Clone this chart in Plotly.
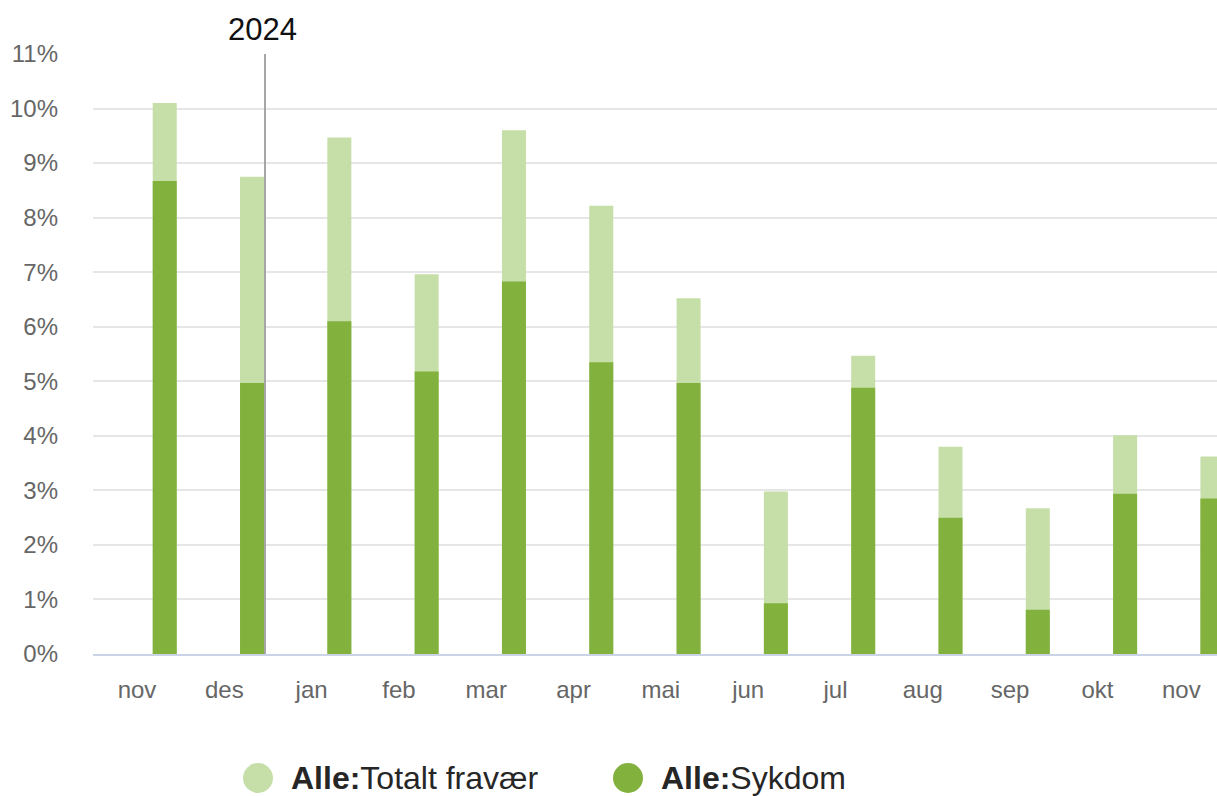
import plotly.graph_objects as go

months = ["nov", "des", "jan", "feb", "mar", "apr", "mai", "jun", "jul", "aug", "sep", "okt", "nov "]
totalt_fravaer = [10.1, 8.75, 9.47, 6.96, 9.6, 8.22, 6.52, 2.98, 5.47, 3.8, 2.67, 4.01, 3.62]
sykdom = [8.67, 4.97, 6.1, 5.18, 6.83, 5.35, 4.97, 0.93, 4.88, 2.5, 0.81, 2.94, 2.85]
y_ticks = list(range(0, 12))
y_tick_labels = [f"{v}%" for v in y_ticks]

LIGHT = "#c6dfa9"
DARK = "#82b23d"
FONT = "Liberation Sans, Arial, sans-serif"

fig = go.Figure()
fig.add_trace(go.Bar(x=months, y=totalt_fravaer, name="Alle:Totalt fravær",
                     marker=dict(color=LIGHT, line=dict(width=0)),
                     width=0.275, offset=0.18, showlegend=False))
fig.add_trace(go.Bar(x=months, y=sykdom, name="Alle:Sykdom",
                     marker=dict(color=DARK, line=dict(width=0)),
                     width=0.275, offset=0.18, showlegend=False))

# year separator line and label
sep_x = 1.466
fig.add_shape(type="line", xref="x", yref="y", x0=sep_x, x1=sep_x, y0=0, y1=11,
              line=dict(color="#a6a6a6", width=2), layer="above")
fig.add_annotation(x=sep_x - 0.03, xref="x", y=1.04, yref="paper", text="2024",
                   showarrow=False, xanchor="center", yanchor="middle",
                   font=dict(family=FONT, size=31, color="#111111"))

# custom legend with circle markers
W = 1124.0
def px_x(p):
    return (p - 93) / W
leg_y = (654 - 778) / 600.0
for cx, tx, col, label in [(258, 289, LIGHT, "<b>Alle:</b>Totalt fravær"),
                           (628, 659, DARK, "<b>Alle:</b>Sykdom")]:
    fig.add_shape(type="circle", xref="paper", yref="paper",
                  xsizemode="pixel", ysizemode="pixel",
                  xanchor=px_x(cx), yanchor=leg_y,
                  x0=-15, x1=15, y0=-15, y1=15,
                  fillcolor=col, line=dict(width=0))
    fig.add_annotation(x=px_x(tx), xref="paper", y=leg_y, yref="paper",
                       text=label, showarrow=False, xanchor="left", yanchor="middle",
                       font=dict(family=FONT, size=32, color="#262626"))

fig.update_layout(
    width=1217, height=796,
    margin=dict(l=93, r=0, t=54, b=142),
    paper_bgcolor="white", plot_bgcolor="white",
    barmode="overlay",
    showlegend=False,
    font=dict(family=FONT, color="#666666"),
    xaxis=dict(type="category", range=[-0.504, 12.37],
               showgrid=False, showline=True, linecolor="#cbd4e6", linewidth=2,
               ticks="", tickfont=dict(size=24, color="#666666"),
               ticklabelstandoff=13),
    yaxis=dict(range=[0, 11], tickvals=y_ticks, ticktext=y_tick_labels,
               showgrid=True, gridcolor="#e6e6e6", gridwidth=2,
               zeroline=False, showline=False, ticks="",
               tickfont=dict(size=24, color="#666666"),
               ticklabelstandoff=34),
)

fig.write_html("out.html")
